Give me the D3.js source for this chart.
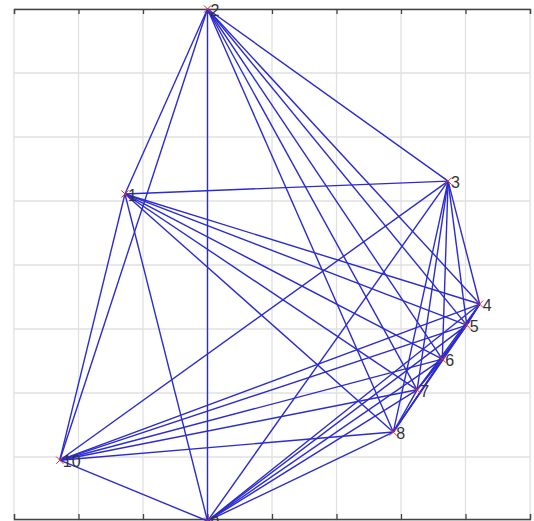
<!DOCTYPE html>
<html><head><meta charset="utf-8">
<script src="https://cdn.jsdelivr.net/npm/d3@7"></script>
<style>body{margin:0;background:#fff}</style></head>
<body><svg id="c" width="534" height="521"></svg>
<script>
const nodeIds=[1,2,3,4,5,6,7,8,9,10];
const nodeX=[1.72,3,6.73,7.22,7.02,6.64,6.25,5.88,3,0.71];
const nodeY=[2.89,0,2.69,4.61,4.94,5.47,5.95,6.61,8,7.05];
const gridTicks=[0,1,2,3,4,5,6,7,8];
const edges=[];
for(let i=0;i<nodeIds.length;i++)for(let j=i+1;j<nodeIds.length;j++)edges.push([i,j]);

const svg=d3.select("#c");
const x=d3.scaleLinear().domain([0,8]).range([14,530]);
const y=d3.scaleLinear().domain([0,8]).range([9,521]);
svg.append("g").selectAll("line").data(gridTicks).join("line")
 .attr("x1",d=>x(d)).attr("x2",d=>x(d)).attr("y1",y(0)).attr("y2",y(8))
 .attr("stroke","#e0e0e0").attr("stroke-width",1.3);
svg.append("g").selectAll("line").data(gridTicks).join("line")
 .attr("y1",d=>y(d)).attr("y2",d=>y(d)).attr("x1",x(0)).attr("x2",x(8))
 .attr("stroke","#e0e0e0").attr("stroke-width",1.3);
svg.append("g").attr("transform",`translate(0,${y(0)})`)
 .call(d3.axisTop(x).tickValues(gridTicks).tickSize(-5).tickFormat(""))
 .call(g=>g.selectAll("path,line").attr("stroke","#444").attr("stroke-width",1.3));
svg.append("g").attr("transform",`translate(0,${y(8)-2})`)
 .call(d3.axisBottom(x).tickValues(gridTicks).tickSize(-5).tickFormat(""))
 .call(g=>g.selectAll("path,line").attr("stroke","#444").attr("stroke-width",1.3));
svg.append("g").selectAll("line").data(edges).join("line")
 .attr("x1",d=>x(nodeX[d[0]])).attr("y1",d=>y(nodeY[d[0]]))
 .attr("x2",d=>x(nodeX[d[1]])).attr("y2",d=>y(nodeY[d[1]]))
 .attr("stroke","#2b2bd0").attr("stroke-width",1.4);
const sym=d3.symbol().type(d3.symbolX).size(35);
svg.append("g").selectAll("path").data(nodeIds).join("path")
 .attr("d",sym).attr("transform",(d,i)=>`translate(${x(nodeX[i])},${y(nodeY[i])})`)
 .attr("stroke","#e03030").attr("fill","none");
svg.append("g").selectAll("text").data(nodeIds).join("text")
 .attr("x",(d,i)=>x(nodeX[i])+3).attr("y",(d,i)=>y(nodeY[i])+7)
 .attr("font-family","Liberation Sans, Arial").attr("font-size",16).attr("fill","#333")
 .text(d=>d);
</script></body></html>
